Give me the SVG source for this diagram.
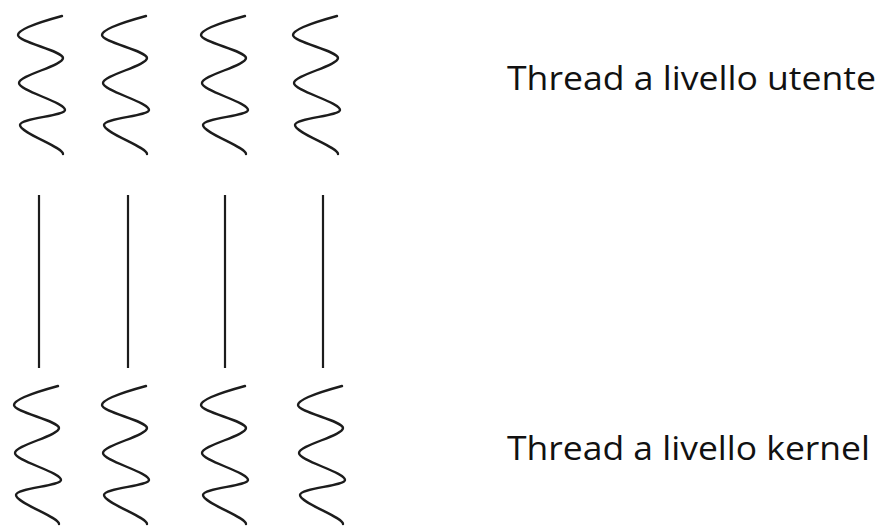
<svg xmlns="http://www.w3.org/2000/svg" xmlns:xlink="http://www.w3.org/1999/xlink" width="881" height="526" viewBox="0 0 881 526">
<style>
.sq{fill:none;stroke:#1c1c1c;stroke-width:2.4;stroke-linecap:round;stroke-linejoin:round}
.ln{stroke:#1c1c1c;stroke-width:2.2}
.lbl{font-family:"Open Sans","Liberation Sans",sans-serif;font-size:33px;fill:#111}
</style>
<defs>
<path id="wave" class="sq" d="M0,0 C-22,6 -44,13 -44,19 C-44,26 1,35 1,42 C1,50 -43,59 -43,67 C-43,75 3,86 3,94 C3,100 -42,102 -42,109 C-42,117 1,131 1,138"/>
</defs>
<rect width="881" height="526" fill="#fff"/>
<g id="user-threads">
<g id="u1"><use xlink:href="#wave" href="#wave" x="62" y="16"/></g>
<g id="u2"><use xlink:href="#wave" href="#wave" x="146" y="16"/></g>
<g id="u3"><use xlink:href="#wave" href="#wave" x="245" y="16"/></g>
<g id="u4"><use xlink:href="#wave" href="#wave" x="337" y="16"/></g>
</g>
<g id="kernel-threads">
<g id="k1"><use xlink:href="#wave" href="#wave" x="58" y="386"/></g>
<g id="k2"><use xlink:href="#wave" href="#wave" x="146" y="386"/></g>
<g id="k3"><use xlink:href="#wave" href="#wave" x="245" y="386"/></g>
<g id="k4"><use xlink:href="#wave" href="#wave" x="342" y="386"/></g>
</g>
<g id="connectors">
<line class="ln" x1="39" y1="195" x2="39" y2="368"/>
<line class="ln" x1="128" y1="195" x2="128" y2="368"/>
<line class="ln" x1="225" y1="195" x2="225" y2="368"/>
<line class="ln" x1="323" y1="195" x2="323" y2="368"/>
</g>
<g id="label-user"><text class="lbl" x="507" y="90" textLength="369" lengthAdjust="spacingAndGlyphs">Thread a livello utente</text></g>
<g id="label-kernel"><text class="lbl" x="507" y="460" textLength="363" lengthAdjust="spacingAndGlyphs">Thread a livello kernel</text></g>
</svg>
